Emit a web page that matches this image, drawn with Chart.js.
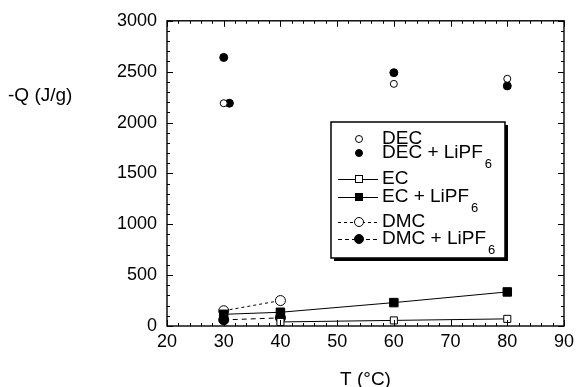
<!DOCTYPE html>
<html>
<head>
<meta charset="utf-8">
<script src="https://cdn.jsdelivr.net/npm/chart.js@4/dist/chart.umd.min.js"></script>
<style>
html,body{margin:0;padding:0;background:#fff}
</style>
</head>
<body>
<canvas id="chart" width="579" height="387"></canvas>
<script>
// =============================
// DATA
// =============================

const tempTicks = [20,30,40,50,60,70,80,90]
const heatTicks = [0,500,1000,1500,2000,2500,3000]

const decT = [30,60,80]
const decQ = [2190,2380,2430]

const decLiT = [30,31,60,80]
const decLiQ = [2640,2190,2490,2360]

const ecT = [40,60,80]
const ecQ = [40,55,70]

const ecLiT = [30,40,60,80]
const ecLiQ = [115,135,230,335]

const dmcT = [30,40]
const dmcQ = [150,250]

const dmcLiT = [30,40]
const dmcLiQ = [60,80]

const legendNames = ["DEC","DEC + LiPF","EC","EC + LiPF","DMC","DMC + LiPF"]
const legendSubs = ["","6","","6","","6"]

const FONT = "'Liberation Sans', Arial, sans-serif"

function pts(xs,ys){
return xs.map((x,i)=>({x:x,y:ys[i]}))
}


// =============================
// FRAME, TICKS, TITLES, LEGEND
// =============================

const framePlugin = {

id:"frame",

afterDraw(chart){

const ctx = chart.ctx
const a = chart.chartArea
const xs = chart.scales.x
const ys = chart.scales.y

ctx.save()
ctx.strokeStyle = "#000"
ctx.lineWidth = 1.4
ctx.strokeRect(a.left,a.top,a.right-a.left,a.bottom-a.top)

ctx.lineWidth = 1
ctx.beginPath()

// x ticks every 2, major every 10
for(let v=tempTicks[0]; v<=tempTicks[tempTicks.length-1]; v+=2){
let px = Math.round(xs.getPixelForValue(v))+0.5
let len = (v%10===0) ? 6 : 3
ctx.moveTo(px,a.bottom); ctx.lineTo(px,a.bottom-len)
ctx.moveTo(px,a.top); ctx.lineTo(px,a.top+len)
}

// y ticks every 100, major every 500
for(let v=heatTicks[0]; v<=heatTicks[heatTicks.length-1]; v+=100){
let py = Math.round(ys.getPixelForValue(v))+0.5
let len = (v%500===0) ? 6 : 3
ctx.moveTo(a.left,py); ctx.lineTo(a.left+len,py)
ctx.moveTo(a.right,py); ctx.lineTo(a.right-len,py)
}
ctx.stroke()

// axis titles
ctx.fillStyle = "#000"
ctx.font = "19px "+FONT
ctx.textBaseline = "middle"
ctx.textAlign = "center"
ctx.fillText("T (°C)",(a.left+a.right)/2,380)
ctx.textAlign = "left"
ctx.fillText("-Q (J/g)",8,96)

// legend box
const L = 331, T = 122, R = 505, B = 258
ctx.fillStyle = "#000"
ctx.fillRect(L+3,T+3,R-L,B-T)
ctx.fillStyle = "#fff"
ctx.fillRect(L,T,R-L,B-T)
ctx.lineWidth = 1.5
ctx.strokeRect(L,T,R-L,B-T)

const rows = [139,153,179,197,222,239]
const mx = 359
const tx = 382

ctx.font = "19px "+FONT
ctx.textAlign = "left"
ctx.textBaseline = "middle"

rows.forEach((ry,i)=>{

// sample line
if(i>=2){
ctx.lineWidth = 1
ctx.setLineDash(i===4 ? [3,3] : (i===5 ? [4,3] : []))
ctx.beginPath()
ctx.moveTo(338,ry+0.5); ctx.lineTo(378,ry+0.5)
ctx.stroke()
ctx.setLineDash([])
}

// marker
ctx.lineWidth = 1
if(i===2 || i===3){
ctx.fillStyle = (i===3) ? "#000" : "#fff"
ctx.fillRect(mx-3.5,ry-3.5,7,7)
ctx.strokeRect(mx-3.5,ry-3.5,7,7)
} else {
let r = (i<2) ? 3.5 : 4.5
ctx.beginPath()
ctx.arc(mx,ry,r,0,Math.PI*2)
ctx.fillStyle = (i%2===1) ? "#000" : "#fff"
ctx.fill()
ctx.stroke()
}

// label
ctx.fillStyle = "#000"
ctx.fillText(legendNames[i],tx,ry)
if(legendSubs[i]){
let w = ctx.measureText(legendNames[i]).width
ctx.font = "13px "+FONT
ctx.fillText(legendSubs[i],tx+w+2,ry+11)
ctx.font = "19px "+FONT
}

})

ctx.restore()

}

}


// =============================
// CHART
// =============================

function makeSet(label,xs,ys,shape,filled,size,dash,line){
return {
label:label,
data:pts(xs,ys),
showLine:line,
borderColor:"#000",
borderWidth:1,
borderDash:dash,
pointStyle:shape,
pointRadius:size,
pointBorderWidth:1,
pointBorderColor:"#000",
pointBackgroundColor:filled ? "#000" : "#fff",
backgroundColor:filled ? "#000" : "#fff"
}
}

new Chart(document.getElementById("chart"),{

type:"scatter",

data:{
datasets:[
makeSet("EC",ecT,ecQ,"rect",false,5,[],true),
makeSet("EC + LiPF6",ecLiT,ecLiQ,"rect",true,6,[],true),
makeSet("DMC",dmcT,dmcQ,"circle",false,5,[3,3],true),
makeSet("DMC + LiPF6",dmcLiT,dmcLiQ,"circle",true,5,[5,4],true),
makeSet("DEC",decT,decQ,"circle",false,3.5,[],false),
makeSet("DEC + LiPF6",decLiT,decLiQ,"circle",true,4,[],false)
]
},

options:{
responsive:false,
animation:false,
layout:{padding:{left:0,top:18,right:12,bottom:0}},
plugins:{
legend:{display:false},
tooltip:{enabled:false}
},
scales:{
x:{
type:"linear",
min:20,
max:90,
afterBuildTicks(scale){ scale.ticks = tempTicks.map(v=>({value:v})) },
afterFit(scale){ scale.height = 61 },
grid:{display:false,drawTicks:false},
border:{display:false},
ticks:{color:"#000",padding:5,maxRotation:0,font:{family:FONT,size:18},callback:v=>String(v)}
},
y:{
min:0,
max:3000,
afterBuildTicks(scale){ scale.ticks = heatTicks.map(v=>({value:v})) },
afterFit(scale){ scale.width = 167 },
grid:{display:false,drawTicks:false},
border:{display:false},
ticks:{color:"#000",padding:10,font:{family:FONT,size:18},callback:v=>String(v)}
}
}
},

plugins:[framePlugin]

})
</script>
</body>
</html>
